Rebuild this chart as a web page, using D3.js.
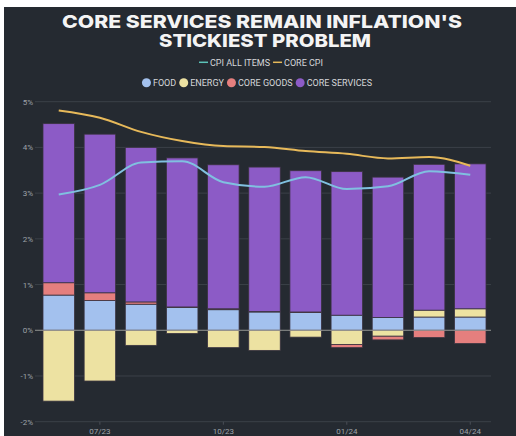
<!DOCTYPE html>
<html>
<head>
<meta charset="utf-8">
<script src="https://cdn.jsdelivr.net/npm/d3@7"></script>
<style>
  body { margin: 0; background: #fff; }
  svg { display: block; }
</style>
</head>
<body>
<svg id="chart"></svg>
<script>
/* -------- core services stacked bar chart -------- */

let months = ["06/23", "07/23", "08/23", "09/23", "10/23", "11/23", "12/23", "01/24", "02/24", "03/24", "04/24"];
let tickMonths = ["07/23", "10/23", "01/24", "04/24"];
let yTicks = [-2, -1, 0, 1, 2, 3, 4, 5];

// contributions to CPI, percentage points
let food = [0.77, 0.65, 0.57, 0.50, 0.45, 0.40, 0.39, 0.33, 0.28, 0.29, 0.29];
let energy = [-1.55, -1.11, -0.33, -0.07, -0.38, -0.44, -0.15, -0.31, -0.13, 0.15, 0.18];
let coreGoods = [0.27, 0.17, 0.05, 0.01, 0.02, 0.01, 0.01, -0.07, -0.08, -0.16, -0.29];
let coreServices = [3.48, 3.47, 3.38, 3.26, 3.15, 3.16, 3.09, 3.14, 3.07, 3.19, 3.17];

let cpiAll = [2.97, 3.18, 3.67, 3.7, 3.24, 3.14, 3.35, 3.09, 3.15, 3.48, 3.4];
let coreCpi = [4.81, 4.65, 4.34, 4.14, 4.03, 4.01, 3.92, 3.86, 3.76, 3.79, 3.6];

let width = 516;
let height = 436;
let bg = "#252a31";

let seriesKeys = ["food", "energy", "coreGoods", "coreServices"];
let seriesNames = { food: "FOOD", energy: "ENERGY", coreGoods: "CORE GOODS", coreServices: "CORE SERVICES" };
let colors = { food: "#a3c1ee", energy: "#ede2a2", coreGoods: "#e57f7e", coreServices: "#8c5bc6" };

let rows = months.map((m, i) => ({
    month: m, food: food[i], energy: energy[i], coreGoods: coreGoods[i], coreServices: coreServices[i]
}));

let svg = d3.select("#chart")
    .attr("width", width)
    .attr("height", height);

svg.append("rect")
    .attr("x", 4).attr("y", 7)
    .attr("width", width - 4).attr("height", height - 7)
    .attr("fill", bg);

// title
let title = svg.append("text")
    .attr("text-anchor", "middle")
    .attr("font-family", "Inter, Liberation Sans, sans-serif")
    .attr("font-weight", 800)
    .attr("font-size", "18px")
    .attr("fill", "#f4f4f4");
title.append("tspan").attr("x", 262).attr("y", 28)
    .attr("textLength", 400).attr("lengthAdjust", "spacingAndGlyphs")
    .text("CORE SERVICES REMAIN INFLATION'S");
title.append("tspan").attr("x", 265).attr("y", 47)
    .attr("textLength", 212).attr("lengthAdjust", "spacingAndGlyphs")
    .text("STICKIEST PROBLEM");

let scaleX = d3.scaleBand()
    .domain(months)
    .range([36, 493])
    .paddingInner(0.235)
    .paddingOuter(0.17);

let scaleY = d3.scaleLinear()
    .domain([-2, 5])
    .range([421.7, 101.7]);

// grid
svg.append("g")
    .selectAll("line").data(yTicks.filter(d => d !== 0))
    .join("line")
    .attr("x1", 35).attr("x2", 491)
    .attr("y1", d => scaleY(d)).attr("y2", d => scaleY(d))
    .attr("stroke", "#3b4048")
    .attr("stroke-width", 1);

svg.append("g")
    .selectAll("text").data(yTicks)
    .join("text")
    .attr("x", 33)
    .attr("y", d => scaleY(d) + 3)
    .attr("text-anchor", "end")
    .attr("font-family", "Roboto, sans-serif")
    .attr("font-size", "8px")
    .attr("fill", "#9ea2a8")
    .text(d => d + "%");

// stacked bars
let stack = d3.stack()
    .keys(seriesKeys)
    .offset(d3.stackOffsetDiverging);

svg.append("g")
    .selectAll("g").data(stack(rows))
    .join("g")
    .attr("fill", d => colors[d.key])
    .selectAll("rect").data(d => d)
    .join("rect")
    .attr("x", d => scaleX(d.data.month))
    .attr("width", scaleX.bandwidth())
    .attr("y", d => scaleY(Math.max(d[0], d[1])))
    .attr("height", d => Math.abs(scaleY(d[0]) - scaleY(d[1])))
    .attr("stroke", "#3a3340")
    .attr("stroke-width", 0.8);

// zero line over the bars
svg.append("line")
    .attr("x1", 35).attr("x2", 491)
    .attr("y1", scaleY(0)).attr("y2", scaleY(0))
    .attr("stroke", "#b9b9b2")
    .attr("stroke-opacity", 0.75)
    .attr("stroke-width", 1);

// x axis labels
let xAxis = svg.append("g");
xAxis.selectAll("line").data(tickMonths)
    .join("line")
    .attr("x1", d => scaleX(d) + scaleX.bandwidth() / 2)
    .attr("x2", d => scaleX(d) + scaleX.bandwidth() / 2)
    .attr("y1", scaleY(-2)).attr("y2", scaleY(-2) + 3)
    .attr("stroke", "#4a4f57");
xAxis.selectAll("text").data(tickMonths)
    .join("text")
    .attr("x", d => scaleX(d) + scaleX.bandwidth() / 2)
    .attr("y", 434)
    .attr("text-anchor", "middle")
    .attr("font-family", "Roboto, sans-serif")
    .attr("font-size", "8px")
    .attr("fill", "#9ea2a8")
    .text(d => d);

// lines
let line = d3.line()
    .x((d, i) => scaleX(months[i]) + scaleX.bandwidth() / 2)
    .y(d => scaleY(d))
    .curve(d3.curveMonotoneX);

svg.append("path")
    .attr("d", line(coreCpi))
    .attr("fill", "none")
    .attr("stroke", "#e7b95a")
    .attr("stroke-width", 2);

svg.append("path")
    .attr("d", line(cpiAll))
    .attr("fill", "none")
    .attr("stroke", "#80c0e0")
    .attr("stroke-width", 2);

// legends
function legendRow(items, y, cx, swatch) {
    let g = svg.append("g");
    let x = 0;
    items.forEach(it => {
        swatch(g, x, it.color);
        let t = g.append("text")
            .attr("x", x + 11)
            .attr("y", 3.2)
            .attr("font-family", "Roboto, sans-serif")
            .attr("font-size", "9px")
            .attr("fill", "#d6d7d9")
            .text(it.label);
        x += 11 + t.node().getComputedTextLength() + 3;
    });
    g.attr("transform", `translate(${cx - (x - 3) / 2}, ${y})`);
}

legendRow([
    { label: "CPI ALL ITEMS", color: "#5cc3b8" },
    { label: "CORE CPI", color: "#e7b95a" }
], 62.3, 261, (g, x, c) => {
    g.append("line")
        .attr("x1", x).attr("x2", x + 9)
        .attr("y1", 0).attr("y2", 0)
        .attr("stroke", c).attr("stroke-width", 1.5);
});

legendRow(seriesKeys.map(k => ({ label: seriesNames[k], color: colors[k] })), 82.7, 257, (g, x, c) => {
    g.append("circle")
        .attr("cx", x + 4.5).attr("cy", 0)
        .attr("r", 4.5)
        .attr("fill", c);
});
</script>
</body>
</html>
